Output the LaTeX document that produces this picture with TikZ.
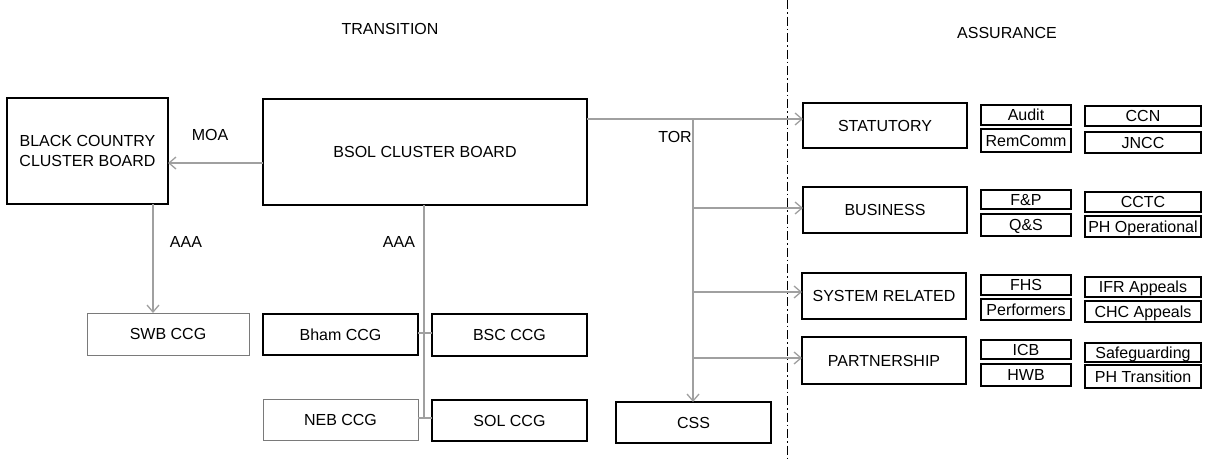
\documentclass[tikz,border=0pt]{standalone}
\usepackage{fontspec}
\setmainfont{Liberation Sans}
\usetikzlibrary{arrows.meta}
\definecolor{conn}{HTML}{A0A0A0}
\definecolor{thinbox}{HTML}{7A7A7A}
\tikzset{
  box/.style={draw=black, line width=1.8pt, inner sep=0pt, outer sep=0pt, align=center,
    font=\fontsize{16}{20}\selectfont},
  lightbox/.style={box, draw=thinbox, line width=1pt},
  smallbox/.style={box, line width=1.6pt, minimum height=21pt, text height=11.5pt, text depth=0pt},
  col1/.style={smallbox, minimum width=90pt},
  col2/.style={smallbox, minimum width=116pt},
  lbl/.style={inner sep=0pt, font=\fontsize{16}{20}\selectfont},
  conline/.style={draw=conn, line width=1.5pt},
  arr/.style={conline, -{Straight Barb[length=7pt,width=12pt,line width=1.3pt]}},
  divider/.style={draw=black, line width=1pt, dash pattern=on 9pt off 3pt on 1.5pt off 3pt}
}
\begin{document}
\begin{tikzpicture}[x=1pt,y=-1pt]
\useasboundingbox (0,0) rectangle (1205,461);
\fill[white] (0,0) rectangle (1205,461);

% headings and labels
\node[lbl] (trans) at (390,29) {TRANSITION};
\node[lbl] (assur) at (1007,33) {ASSURANCE};
\node[lbl] (moa) at (210,135) {MOA};
\node[lbl] (aaa1) at (186,242) {AAA};
\node[lbl] (aaa2) at (399,242) {AAA};
\node[lbl] (tor) at (675,137) {TOR};

% divider
\draw[divider] (787,0) -- (787,461);

% transition side
\node[box, minimum width=161pt, minimum height=106pt] (bc) at (87.5,151) {BLACK COUNTRY\\CLUSTER BOARD};
\node[box, minimum width=324pt, minimum height=106pt] (bsol) at (425,152) {BSOL CLUSTER BOARD};
\node[lightbox, minimum width=162pt, minimum height=42pt] (swb) at (168,334) {SWB CCG};
\node[box, minimum width=155pt, minimum height=41pt] (bham) at (340.5,334.5) {Bham CCG};
\node[box, minimum width=155pt, minimum height=42pt] (bsc) at (509.5,335) {BSC CCG};
\node[lightbox, minimum width=155pt, minimum height=41pt] (neb) at (340.5,419.5) {NEB CCG};
\node[box, minimum width=155pt, minimum height=41pt] (sol) at (509.5,420.5) {SOL CCG};
\node[box, minimum width=155pt, minimum height=41pt] (css) at (693.5,422.5) {CSS};

% assurance side
\node[box, minimum width=164pt, minimum height=45pt] (stat) at (885,125.5) {STATUTORY};
\node[box, minimum width=164pt, minimum height=46pt] (bus) at (885,210) {BUSINESS};
\node[box, minimum width=164pt, minimum height=46pt] (sys) at (884,296) {SYSTEM RELATED};
\node[box, minimum width=164pt, minimum height=47pt] (part) at (884,360.5) {PARTNERSHIP};

\node[col1, minimum height=20pt] (audit) at (1026,115) {Audit};
\node[col1, minimum height=23pt] (rem) at (1026,140.5) {RemComm};
\node[col2, minimum height=20pt] (ccn) at (1143,116) {CCN};
\node[col2] (jncc) at (1143,142.5) {JNCC};

\node[col1, minimum height=19pt] (fp) at (1026,199.5) {F\&P};
\node[col1, minimum height=22pt] (qs) at (1026,225) {Q\&S};
\node[col2, minimum height=20pt] (cctc) at (1143,202) {CCTC};
\node[col2] (pho) at (1143,226.5) {PH Operational};

\node[col1, minimum height=20pt] (fhs) at (1026,285) {FHS};
\node[col1] (perf) at (1026,309.5) {Performers};
\node[col2, minimum height=20pt] (ifr) at (1143,287) {IFR Appeals};
\node[col2] (chc) at (1143,311.5) {CHC Appeals};

\node[col1, minimum height=19pt] (icb) at (1026,349.5) {ICB};
\node[col1, minimum height=22pt] (hwb) at (1026,375) {HWB};
\node[col2, minimum height=19pt] (safe) at (1143,352.5) {Safeguarding};
\node[col2, minimum height=23pt] (pht) at (1143,376.5) {PH Transition};

% connectors: left
\draw[arr] ([yshift=-11pt]bsol.west) -- ([yshift=-11pt]bsol.west -| bc.east);
\draw[arr] ([xshift=-15pt]swb.north |- bc.south) -- ([xshift=-15pt]swb.north);

\coordinate (j1) at (424,333);
\coordinate (j2) at (424,418);
\draw[conline] (j1 |- bsol.south) -- (j2);
\draw[conline] (bham.east |- j1) -- (bsc.west |- j1);
\draw[conline] (neb.east |- j2) -- (sol.west |- j2);

% connectors: TOR
\coordinate (t0) at (693,119);
\draw[arr] (bsol.east |- t0) -- (stat.west |- t0);
\draw[arr] (t0) -- (t0 |- css.north);
\draw[arr] (t0 |- 0,208) -- (bus.west |- 0,208);
\draw[arr] (t0 |- 0,292) -- (sys.west |- 0,292);
\draw[arr] (t0 |- 0,358) -- (part.west |- 0,358);
\end{tikzpicture}
\end{document}
